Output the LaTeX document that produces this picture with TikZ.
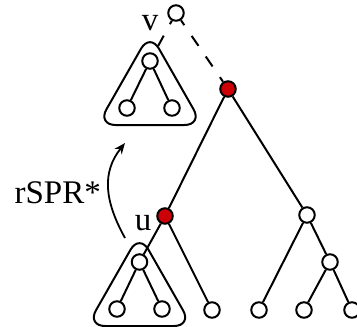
\documentclass[tikz,border=0pt]{standalone}
\usepackage{fontspec}
\setmainfont{Liberation Serif}
\usetikzlibrary{arrows.meta, positioning}
\definecolor{markred}{RGB}{205,0,8}
\tikzset{
    vertex/.style={
        circle, draw, fill=white,
        line width=2pt, minimum size=15.5pt, inner sep=0pt
    },
    marked/.style={vertex, fill=markred},
    branch/.style={line width=2pt},
    dashlink/.style={branch, dash pattern=on 12pt off 13pt, dash phase=6pt},
    subtri/.style={line width=2pt, rounded corners=18pt},
    lbl/.style={font=\fontsize{33}{36}\selectfont, inner sep=0pt},
    move/.style={line width=1.8pt, -{Stealth[open, length=11pt, width=9pt]}}
}

\begin{document}
\begin{tikzpicture}[x=1pt, y=-1pt]
    \useasboundingbox (0,0) rectangle (357,327);

    % main tree
    \node[vertex] (v) at (176,13) {};
    \node[marked] (r) at (228,89) {};
    \node[marked] (u) at (165,216) {};
    \node[vertex] (n2) at (307,215) {};
    \node[vertex] (n3) at (330,262) {};
    \node[vertex] (l1) at (212,310) {};
    \node[vertex] (l2) at (259,310) {};
    \node[vertex] (l3) at (304,310) {};
    \node[vertex] (l4) at (352,310) {};

    % pruned subtree, old place
    \node[vertex] (la) at (139.5,262) {};
    \node[vertex] (lb) at (117,309) {};
    \node[vertex] (lc) at (162,309) {};

    % pruned subtree, new place
    \node[vertex] (ua) at (150,61) {};
    \node[vertex] (ub) at (127,108) {};
    \node[vertex] (uc) at (172,108) {};

    \node[lbl, anchor=base] (vlab) at (150,30) {v};
    \node[lbl, anchor=base] (ulab) at (143,230) {u};
    \node[lbl, anchor=base east] (oplab) at (101,203) {rSPR*};

    \draw[branch] (r) -- (u);
    \draw[branch] (r) -- (n2);
    \draw[branch] (u) -- (la);
    \draw[branch] (u) -- (l1);
    \draw[branch] (n2) -- (l2);
    \draw[branch] (n2) -- (n3);
    \draw[branch] (n3) -- (l3);
    \draw[branch] (n3) -- (l4);
    \draw[branch] (la) -- (lb);
    \draw[branch] (la) -- (lc);
    \draw[branch] (ua) -- (ub);
    \draw[branch] (ua) -- (uc);

    \draw[dashlink] (v) -- (r);
    \draw[dashlink, dash phase=8pt, shorten >=7pt] (v) -- (ua);

    \draw[subtri] (150,33) -- (202.5,125) -- (97.5,125) -- cycle;
    \draw[subtri] (139.5,234) -- (192,326) -- (87,326) -- cycle;

    \coordinate (mvfrom) at (125,238);
    \coordinate (mvto) at (125,143);
    \draw[move] (mvfrom) .. controls (104,200) and (102,172) .. (mvto);
\end{tikzpicture}
\end{document}
